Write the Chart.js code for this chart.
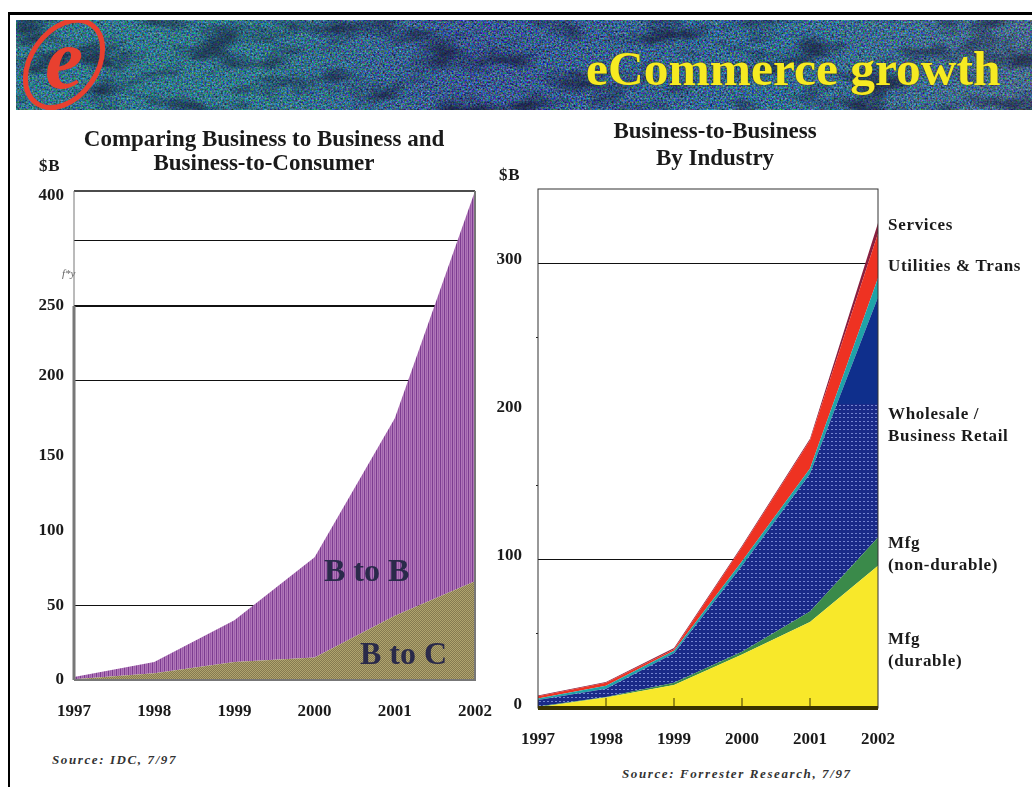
<!DOCTYPE html>
<html>
<head>
<meta charset="utf-8">
<title>eCommerce growth</title>
<script src="https://cdn.jsdelivr.net/npm/chart.js@4"></script>
<style>
  html, body { margin: 0; background: #fff; }
  #page { position: relative; width: 1032px; height: 787px; overflow: hidden; font-family: "Liberation Serif", serif; color: #1a1a1a; }
  #page canvas { position: absolute; }
  #frameTop { position: absolute; left: 8px; top: 12px; width: 1024px; height: 3px; background: #000; }
  #frameLeft { position: absolute; left: 8px; top: 12px; width: 2px; height: 775px; background: #000; }
  #banner { position: absolute; left: 16px; top: 20px; }
  #heading { position: absolute; left: 586px; top: 40px; font: bold 49.5px "Liberation Serif", serif; color: #f6ea22; white-space: nowrap; text-shadow: 0 0 2px #3a3a10; }
  .note { position: absolute; font: bold 17px "Liberation Serif", serif; letter-spacing: 0.7px; white-space: nowrap; }
  .src { position: absolute; font: italic bold 13px "Liberation Serif", serif; letter-spacing: 1.6px; white-space: nowrap; color: #333; }
  .smudge { position: absolute; font: italic 11px "Liberation Serif", serif; color: #666; }
  .inarea { position: absolute; font: bold 32px "Liberation Serif", serif; color: #2a2a4a; white-space: nowrap; }
</style>
</head>
<body>
<div id="page">
  <div id="frameTop"></div>
  <div id="frameLeft"></div>
  <svg id="banner" width="1016" height="90">
    <defs>
      <linearGradient id="tint" x1="0" x2="1" y1="0" y2="0">
        <stop offset="0" stop-color="#1f8a80" stop-opacity="0.35"/>
        <stop offset="0.25" stop-color="#1f8a80" stop-opacity="0.3"/>
        <stop offset="0.45" stop-color="#30208a" stop-opacity="0.25"/>
        <stop offset="0.75" stop-color="#1f6a90" stop-opacity="0.25"/>
        <stop offset="1" stop-color="#606a80" stop-opacity="0.3"/>
      </linearGradient>
      <filter id="grain" x="0" y="0" width="100%" height="100%" color-interpolation-filters="sRGB">
        <feTurbulence type="fractalNoise" baseFrequency="0.55" numOctaves="2" seed="4"/>
        <feColorMatrix type="matrix" values="1.2 0 0 0 -0.36  0 1.4 0 0 -0.28  0 0 1.6 0 -0.24  0 0 0 0 1"/>
      </filter>
      <filter id="patches" x="0" y="0" width="100%" height="100%" color-interpolation-filters="sRGB">
        <feTurbulence type="fractalNoise" baseFrequency="0.018 0.04" numOctaves="3" seed="11"/>
        <feColorMatrix type="matrix" values="0 0 0 0 0.08  0 0 0 0 0.08  0 0 0 0 0.2  2.0 0 0 0 -0.95"/>
      </filter>
    </defs>
    <rect width="1016" height="90" filter="url(#grain)"/>
    <rect width="1016" height="90" fill="url(#tint)"/>
    <rect width="1016" height="90" filter="url(#patches)"/>
    <g transform="translate(48 44)">
      <ellipse cx="0" cy="0" rx="33" ry="48" transform="rotate(35)" fill="none" stroke="#e8402f" stroke-width="5"/>
      <text x="-19" y="24" font-family="Liberation Serif" font-style="italic" font-weight="bold" font-size="86" fill="#e8402f">e</text>
    </g>
  </svg>
  <div id="heading">eCommerce growth</div>
  <canvas id="left" style="left:20px;top:115px"></canvas>
  <canvas id="right" style="left:485px;top:115px"></canvas>
</div>

<script>
const years = ["1997", "1998", "1999", "2000", "2001", "2002"];

// left chart, $B
const bToC = [0.5, 4.5, 12, 15, 43, 66];
const bToB = [1.5, 7.5, 28, 67, 132, 334];
const leftTicks = [0, 50, 100, 150, 200, 250, 300, 400];
const leftLabels = ["0", "50", "100", "150", "200", "250", "", "400"];
const leftLines = [50, 200, 250, 300];

// right chart, $B
const durable = [0.5, 7, 15.5, 36, 58, 96];
const nonDurable = [0.5, 0.5, 1.5, 2, 7, 19];
const wholesale = [4.4, 5.5, 20, 58, 93, 162];
const retailEdge = [1, 2, 1.6, 3, 3.5, 13];
const utilities = [1.5, 2, 1, 9.5, 19, 30];
const services = [0.6, 0.5, 0.9, 1, 1, 7];
const rightTicks = [0, 50, 100, 150, 200, 250, 300];
const rightLabels = ["0", "", "100", "", "200", "", "300"];
const rightLines = [100, 300];

const notes = [
  ["$B", 39, 156], ["$B", 499, 165],
  ["Services", 888, 215], ["Utilities & Trans", 888, 256],
  ["Wholesale /", 888, 404], ["Business Retail", 888, 426],
  ["Mfg", 888, 533], ["(non-durable)", 888, 555],
  ["Mfg", 888, 629], ["(durable)", 888, 651]
];
const sources = [["Source: IDC, 7/97", 52, 752], ["Source: Forrester Research, 7/97", 622, 766]];
const areaNames = [["B to B", 324, 552], ["B to C", 360, 635]];

const page = document.getElementById("page");
function addText(cls, item) {
  const d = document.createElement("div");
  d.className = cls;
  d.textContent = item[0];
  d.style.left = item[1] + "px";
  d.style.top = item[2] + "px";
  page.appendChild(d);
}
notes.forEach(n => addText("note", n));
sources.forEach(s => addText("src", s));
areaNames.forEach(a => addText("inarea", a));
addText("smudge", ["f*y", 62, 267]);

const serif = "'Liberation Serif', serif";

function makeTile(w, h, paint) {
  const c = document.createElement("canvas");
  c.width = w;
  c.height = h;
  paint(c.getContext("2d"), w, h);
  return c.getContext("2d").createPattern(c, "repeat");
}

const purpleFill = makeTile(4, 4, (g) => {
  g.fillStyle = "#b078b8"; g.fillRect(0, 0, 4, 4);
  g.fillStyle = "#7c3c90"; g.fillRect(0, 0, 1, 4);
  g.fillStyle = "#9a5aa8"; g.fillRect(2, 0, 1, 4);
});
const oliveFill = makeTile(2, 2, (g) => {
  g.fillStyle = "#b0a46e"; g.fillRect(0, 0, 2, 2);
  g.fillStyle = "#857a50"; g.fillRect(0, 0, 1, 1); g.fillRect(1, 1, 1, 1);
});
// dots only below the $200B level, as in the original scan
const blueFill = makeTile(460, 640, (g, w, h) => {
  g.fillStyle = "#0f2f8c"; g.fillRect(0, 0, w, h);
  g.fillStyle = "#1a2a88"; g.fillRect(0, 289, w, h);
  g.fillStyle = "#7484d0";
  for (let y = 290; y < h; y += 4) {
    for (let x = (y % 8 ? 2 : 0); x < w; x += 4) g.fillRect(x, y, 2, 1);
  }
});

// axis that bends above 250, the left chart's labels are not evenly spaced
class BentScale extends Chart.LinearScale {
  getPixelForValue(v) {
    const vals = [0, 250, 300, 400];
    const at = [0, 0.765, 0.898, 1];
    let i = 0;
    while (i < vals.length - 2 && v > vals[i + 1]) i++;
    const k = (v - vals[i]) / (vals[i + 1] - vals[i]);
    return this.getPixelForDecimal(at[i] + k * (at[i + 1] - at[i]));
  }
}
BentScale.id = "bent";
BentScale.defaults = Chart.LinearScale.defaults;
Chart.register(BentScale);

function area(label, data, fill, first) {
  return { label: label, data: data, yAxisID: "y", backgroundColor: fill, borderWidth: 0, pointRadius: 0, tension: 0, fill: first ? "origin" : "-1" };
}

function baseOptions(titleLines, titleTop, titleBottom, lineHeight, rightGap, xHeight) {
  return {
    responsive: false,
    animation: false,
    plugins: {
      legend: { display: false },
      tooltip: { enabled: false },
      title: {
        display: true,
        text: titleLines,
        color: "#1a1a1a",
        font: { family: serif, size: 23, weight: "bold", lineHeight: lineHeight },
        padding: { top: titleTop, bottom: titleBottom }
      }
    },
    scales: {
      x: {
        grid: { display: false },
        border: { display: false },
        ticks: { color: "#1a1a1a", font: { family: serif, size: 17, weight: "bold" }, maxRotation: 0, autoSkip: false, padding: 13 },
        afterFit: (s) => { s.height = xHeight; }
      },
      // empty axis, only keeps the room on the right so the title stays centred on the canvas
      gap: {
        position: "right",
        grid: { display: false },
        border: { display: false },
        ticks: { display: false },
        afterFit: (s) => { s.width = rightGap; }
      }
    }
  };
}

function yAxis(type, max, ticks, labels, lines, width, markTicks, pad, lineH, shift) {
  return {
    type: type,
    stacked: true,
    min: 0,
    max: max,
    afterBuildTicks: (s) => { s.ticks = ticks.map(v => ({ value: v })); },
    afterFit: (s) => { s.width = width; },
    border: { display: false },
    grid: {
      color: (c) => lines.includes(c.tick.value) ? "#111" : "rgba(0,0,0,0)",
      lineWidth: (c) => c.tick.value === 250 && !markTicks ? 2 : 1,
      drawTicks: markTicks,
      tickLength: 2,
      tickColor: (c) => (c.tick.value % 100) ? "#222" : "rgba(0,0,0,0)"
    },
    ticks: {
      color: "#1a1a1a",
      autoSkip: false,
      padding: pad,
      font: { family: serif, size: 17, weight: "bold", lineHeight: lineH },
      // a blank line nudges a label up or down off its gridline, like the scan
      callback: (v) => {
        const t = labels[ticks.indexOf(v)];
        const s = shift(v);
        return s < 0 ? [t, ""] : s > 0 ? ["", t] : t;
      }
    }
  };
}

const leftOptions = baseOptions(["Comparing Business to Business and", "Business-to-Consumer"], 13, 15, 24 / 23, 33, 40);
leftOptions.scales.y = yAxis("bent", 400, leftTicks, leftLabels, leftLines, 54, false, 10, 0.6, (v) => v === 400 ? 1 : v === 200 ? -1 : 0);

const rightOptions = baseOptions(["Business-to-Business", "By Industry"], 4, 16, 27 / 23, 67, 42);
rightOptions.scales.y = yAxis("linear", 350, rightTicks, rightLabels, rightLines, 53, true, 14, 0.45, () => -1);

const leftFrame = {
  id: "leftFrame",
  afterDatasetsDraw(chart) {
    const g = chart.ctx, a = chart.chartArea, y = chart.scales.y;
    g.save();
    g.strokeStyle = "#111"; g.lineWidth = 1.5;
    g.beginPath(); g.moveTo(a.left, a.top); g.lineTo(a.right, a.top); g.stroke();
    g.strokeStyle = "#777"; g.lineWidth = 2;
    g.beginPath(); g.moveTo(a.right, a.top); g.lineTo(a.right, a.bottom); g.lineTo(a.left, a.bottom); g.stroke();
    g.lineWidth = 1;
    g.beginPath(); g.moveTo(a.left, a.top); g.lineTo(a.left, y.getPixelForValue(250)); g.stroke();
    g.lineWidth = 3;
    g.beginPath(); g.moveTo(a.left, y.getPixelForValue(250)); g.lineTo(a.left, a.bottom); g.stroke();
    g.restore();
  }
};

const rightFrame = {
  id: "rightFrame",
  afterDatasetsDraw(chart) {
    const g = chart.ctx, a = chart.chartArea, x = chart.scales.x;
    g.save();
    g.strokeStyle = "#333"; g.lineWidth = 1;
    g.strokeRect(a.left, a.top, a.right - a.left, a.bottom - a.top);
    g.strokeStyle = "#3a3300"; g.lineWidth = 4;
    g.beginPath(); g.moveTo(a.left, a.bottom); g.lineTo(a.right, a.bottom); g.stroke();
    g.lineWidth = 1;
    for (let i = 1; i < years.length - 1; i++) {
      const px = x.getPixelForValue(i);
      g.beginPath(); g.moveTo(px, a.bottom); g.lineTo(px, a.bottom - 10); g.stroke();
    }
    g.restore();
  }
};

const leftCanvas = document.getElementById("left");
leftCanvas.width = 488; leftCanvas.height = 605;
new Chart(leftCanvas, {
  type: "line",
  data: {
    labels: years,
    datasets: [
      area("B to C", bToC, oliveFill, true),
      area("B to B", bToB, purpleFill, false)
    ]
  },
  options: leftOptions,
  plugins: [leftFrame]
});

const rightCanvas = document.getElementById("right");
rightCanvas.width = 460; rightCanvas.height = 635;
new Chart(rightCanvas, {
  type: "line",
  data: {
    labels: years,
    datasets: [
      area("Mfg (durable)", durable, "#f8e82a", true),
      area("Mfg (non-durable)", nonDurable, "#3a8a4a", false),
      area("Wholesale / Business Retail", wholesale, blueFill, false),
      area("Retail edge", retailEdge, "#1fa3a8", false),
      area("Utilities & Trans", utilities, "#ee3222", false),
      area("Services", services, "#8a2040", false)
    ]
  },
  options: rightOptions,
  plugins: [rightFrame]
});
</script>
</body>
</html>
